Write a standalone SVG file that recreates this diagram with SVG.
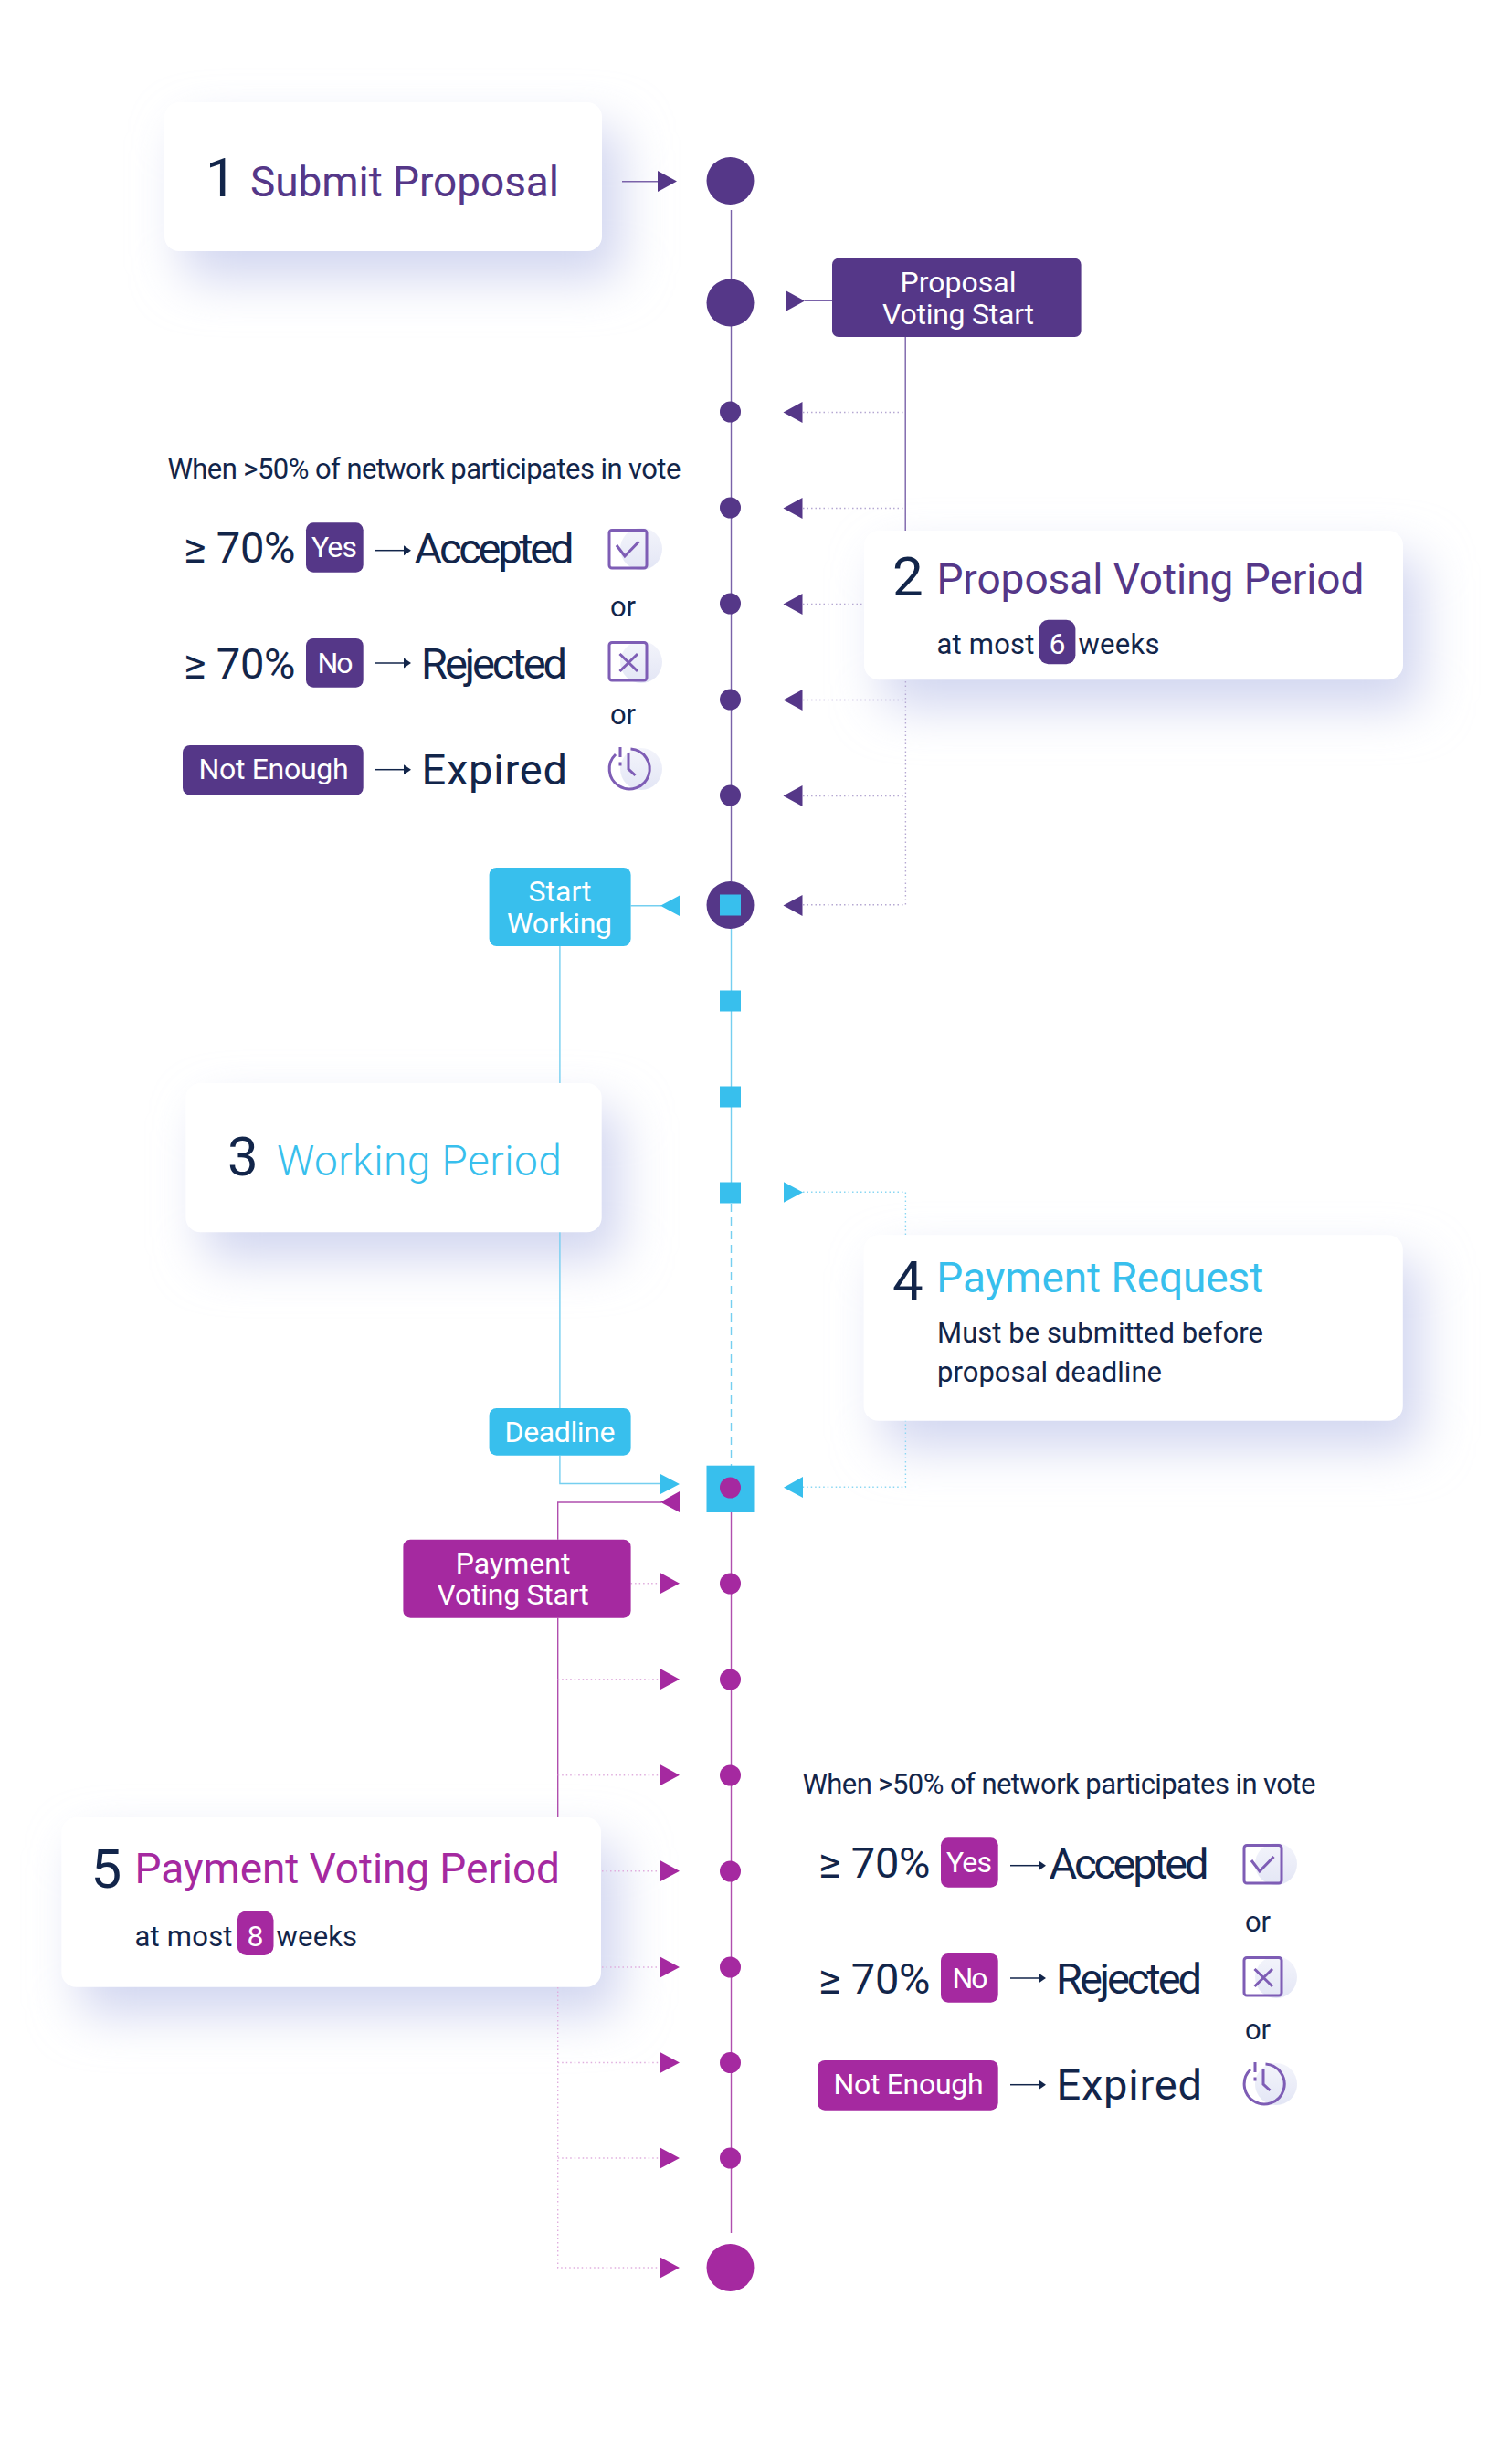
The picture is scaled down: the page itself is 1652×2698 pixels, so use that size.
<svg xmlns="http://www.w3.org/2000/svg" width="1652" height="2698" viewBox="0 0 1652 2698">
<style>
text{font-family:Roboto,"Liberation Sans",sans-serif;fill:#12254a}
.num{font-size:60px;font-weight:400}
.ttl{font-size:46px;font-weight:400}
.body{font-size:31px}
.res{font-size:47px}
.w{fill:#fff;font-size:32px}
.c{text-anchor:middle}
.pu{fill:#553788}.bl{fill:#38bfed}.ma{fill:#a529a0}
.tpu{fill:#553788}.tbl{fill:#38bfed}.tma{fill:#a529a0}
.card{fill:#fff}
.sh{fill:#d1d6f0;filter:url(#blur)}
.l{fill:none;stroke-width:1.4}
.d{fill:none;stroke-width:1.4;stroke-dasharray:1.5 3}
.lpu{stroke:#7a62a9}.lbl{stroke:#75cff0}.lma{stroke:#b04fae}
.dpu{stroke:#b5a8d2}.dbl{stroke:#8ad7f3}.dma{stroke:#e0aede}
.ib{fill:none;stroke:#7e5db5;stroke-width:3}
.ig{fill:url(#ico)}
</style>
<defs>
<filter id="blur" x="-30%" y="-60%" width="160%" height="220%"><feGaussianBlur stdDeviation="27"/></filter>
<linearGradient id="ico" x1="0" y1="0" x2="0" y2="1"><stop offset="0" stop-color="#f3f4fb"/><stop offset="1" stop-color="#e3e6f5"/></linearGradient>
<g id="iconCheck"><circle class="ig" cx="702" cy="601" r="23"/><rect class="ib" x="667" y="580.500" width="41" height="41.500" rx="3"/><path class="ib" d="M675 597L684 609L699.500 593"/></g>
<g id="iconX"><circle class="ig" cx="702" cy="725" r="23"/><rect class="ib" x="667" y="703.500" width="41" height="41.500" rx="3"/><path class="ib" d="M678.500 716L698 735M698 716L678.500 735"/></g>
<g id="iconClock"><circle class="ig" cx="702" cy="842" r="23"/><path class="ib" d="M690.500 820A22 22 0 1 1 674 826"/><path class="ib" d="M679 818V829M679 834.500V838.500M688 825V842L695.500 849" stroke-width="2.500"/></g>
<path id="ah" fill="#12254a" d="M442 -5.500V5.500L450 0Z"/>
</defs>
<rect width="1652" height="2698" fill="#fff"/>

<g id="shadows">
<rect class="sh" x="200" y="140" width="480" height="165" rx="16"/>
<rect class="sh" x="966" y="609" width="590" height="165" rx="16"/>
<rect class="sh" x="223" y="1214" width="456" height="165" rx="16"/>
<rect class="sh" x="966" y="1380" width="590" height="205" rx="16"/>
<rect class="sh" x="87" y="2018" width="591" height="188" rx="16"/>
</g>

<g id="connectors">
<path class="l lpu" d="M800.500 230V965"/>
<path class="l lbl" d="M800.500 1017V1295"/>
<path class="l lbl" stroke-dasharray="9 6" d="M800.500 1318V1605"/>
<path class="l lma" d="M800.500 1656V2445"/>
<path class="l lpu" d="M681 198.700H722"/>
<path class="l lpu" d="M881 329.300H911M991.200 369V581"/>
<path class="d dpu" d="M879 451.500H991M879 556.500H991M879 661.500H946M879 766.500H991M879 871.500H991M879 990.700H991.400V744"/>
<path class="l lbl" d="M690.600 991.700H724M612.900 1036V1542M612.900 1593.700V1624.500H724"/>
<path class="d dbl" d="M879 1305.300H991.400V1352M991.400 1555V1628.300H879"/>
<path class="l lma" d="M724 1645H610.700V1685.700M610.700 1771.700V1990"/>
<path class="d dma" d="M690.600 1733.700H723M610.700 1838.700H723M610.700 1943.700H723M659 2048.700H723M659 2154H723M610.700 2176V2483H723M610.700 2258.500H723M610.700 2363H723"/>
</g>

<g id="arrows">
<path class="pu" d="M720 187L741 198.500L720 210Z"/>
<path class="pu" d="M860 318L881 329.500L860 341Z"/>
<path class="pu" d="M857.500 451.500L878.500 440V463ZM857.500 556.500L878.500 545V568ZM857.500 661.500L878.500 650V673ZM857.500 766.500L878.500 755V778ZM857.500 871.500L878.500 860V883ZM857.500 991.500L878.500 980V1003Z"/>
<path class="bl" d="M723 991.700L744 980.500V1003ZM723 1614L744 1625L723 1636ZM858 1628.700L879 1617V1640ZM858 1294.300L879 1305.500L858 1316.700Z"/>
<path class="ma" d="M723 1644.700L744 1633V1656ZM723 1722.300L744 1733.700L723 1745ZM723 1827.300L744 1838.700L723 1850ZM723 1932.300L744 1943.700L723 1955ZM723 2037.300L744 2048.700L723 2060ZM723 2142.700L744 2154L723 2165.300ZM723 2247.200L744 2258.500L723 2269.800ZM723 2351.700L744 2363L723 2374.300ZM723 2471.700L744 2483L723 2494.300Z"/>
</g>

<g id="timeline-purple">
<circle class="pu" cx="799.500" cy="198" r="26"/>
<circle class="pu" cx="799.500" cy="331.500" r="26"/>
<circle class="pu" cx="799.500" cy="451" r="11.500"/>
<circle class="pu" cx="799.500" cy="556" r="11.500"/>
<circle class="pu" cx="799.500" cy="661" r="11.500"/>
<circle class="pu" cx="799.500" cy="766" r="11.500"/>
<circle class="pu" cx="799.500" cy="871" r="11.500"/>
<circle class="pu" cx="799.500" cy="991" r="26"/>
</g>
<g id="timeline-blue">
<rect class="bl" x="788" y="979.500" width="23" height="23"/>
<rect class="bl" x="788" y="1084.500" width="23" height="23"/>
<rect class="bl" x="788" y="1189.500" width="23" height="23"/>
<rect class="bl" x="788" y="1294.500" width="23" height="23"/>
<rect class="bl" x="773.500" y="1604.700" width="52" height="51.300"/>
</g>
<g id="timeline-magenta">
<circle class="ma" cx="799.500" cy="1629" r="11.500"/>
<circle class="ma" cx="799.500" cy="1734" r="11.500"/>
<circle class="ma" cx="799.500" cy="1839" r="11.500"/>
<circle class="ma" cx="799.500" cy="1944" r="11.500"/>
<circle class="ma" cx="799.500" cy="2049" r="11.500"/>
<circle class="ma" cx="799.500" cy="2154" r="11.500"/>
<circle class="ma" cx="799.500" cy="2258.500" r="11.500"/>
<circle class="ma" cx="799.500" cy="2363" r="11.500"/>
<circle class="ma" cx="799.500" cy="2483" r="26"/>
</g>

<g id="card-1">
<rect class="card" x="180" y="112" width="479" height="163" rx="16"/>
<text class="num" x="225" y="215">1</text>
<text class="ttl tpu" x="274" y="215" textLength="338">Submit Proposal</text>
</g>
<g id="card-2">
<rect class="card" x="946" y="581" width="590" height="163.300" rx="16"/>
<text class="num" x="977" y="652">2</text>
<text class="ttl tpu" x="1025.400" y="649.500" textLength="468">Proposal Voting Period</text>
<text class="body" x="1025.400" y="716" textLength="107">at most</text>
<rect class="pu" x="1137.600" y="678.700" width="39.800" height="48.600" rx="10"/>
<text class="w c" x="1157.500" y="715.500">6</text>
<text class="body" x="1180.500" y="716" textLength="89">weeks</text>
</g>
<g id="card-3">
<rect class="card" x="203.300" y="1186" width="455.400" height="163.300" rx="16"/>
<text class="num" x="249" y="1286.700">3</text>
<text class="ttl tbl" x="303" y="1286.700" textLength="311.800" style="font-weight:300">Working Period</text>
</g>
<g id="card-4">
<rect class="card" x="945.600" y="1352.300" width="590.200" height="203.400" rx="16"/>
<text class="num" x="977" y="1423.300">4</text>
<text class="ttl tbl" x="1025.300" y="1415" textLength="358">Payment Request</text>
<text class="body" x="1026" y="1470" textLength="357">Must be submitted before</text>
<text class="body" x="1026" y="1513" textLength="246">proposal deadline</text>
</g>
<g id="card-5">
<rect class="card" x="67.300" y="1990" width="590.700" height="185.800" rx="16"/>
<text class="num" x="99.500" y="2066.700">5</text>
<text class="ttl tma" x="147.500" y="2061.500" textLength="465.500">Payment Voting Period</text>
<text class="body" x="147.500" y="2131" textLength="107">at most</text>
<rect class="ma" x="259.700" y="2092.400" width="39.800" height="48.600" rx="10"/>
<text class="w c" x="279.600" y="2130.500">8</text>
<text class="body" x="302.600" y="2131" textLength="88.500">weeks</text>
</g>

<g id="proposal-voting-start">
<rect class="pu" x="911" y="282.700" width="272.600" height="86.300" rx="7"/>
<text class="w c" x="1049" y="320">Proposal</text>
<text class="w c" x="1049" y="354.500" textLength="166">Voting Start</text>
</g>
<g id="start-working">
<rect class="bl" x="535.600" y="950" width="155" height="86" rx="8"/>
<text class="w c" x="613" y="987.300">Start</text>
<text class="w c" x="612.500" y="1021.700" textLength="115">Working</text>
</g>
<g id="deadline">
<rect class="bl" x="535.600" y="1542" width="155" height="51.700" rx="8"/>
<text class="w c" x="613" y="1578.500" textLength="121">Deadline</text>
</g>
<g id="payment-voting-start">
<rect class="ma" x="441.400" y="1685.700" width="249.200" height="86" rx="8"/>
<text class="w c" x="561.600" y="1722.800">Payment</text>
<text class="w c" x="561.600" y="1757" textLength="166">Voting Start</text>
</g>

<g id="vote-proposal">
<text class="body" x="183.400" y="523.500" textLength="562">When &gt;50% of network participates in vote</text>
<text class="res" x="201" y="616" textLength="122.500">≥ 70%</text>
<rect class="pu" x="335" y="572.300" width="62.700" height="54.400" rx="8"/>
<text class="w c" x="366" y="609.500" textLength="50">Yes</text>
<path d="M411 602.700H443" stroke="#12254a" stroke-width="1.500"/><use href="#ah" y="602.700"/>
<text class="res" x="453.500" y="616.500" textLength="175">Accepted</text>
<use href="#iconCheck"/>
<text class="body" x="668" y="675" textLength="28">or</text>
<text class="res" x="201" y="742.500" textLength="122.500">≥ 70%</text>
<rect class="pu" x="335" y="699" width="62.700" height="53.700" rx="8"/>
<text class="w c" x="367" y="736.500" textLength="39">No</text>
<path d="M411 726H443" stroke="#12254a" stroke-width="1.500"/><use href="#ah" y="726"/>
<text class="res" x="461" y="742.500" textLength="160">Rejected</text>
<use href="#iconX"/>
<text class="body" x="668" y="793" textLength="28">or</text>
<rect class="pu" x="200" y="816" width="197.700" height="54.700" rx="8"/>
<text class="w" x="217.500" y="853" textLength="164">Not Enough</text>
<path d="M411 842.700H443" stroke="#12254a" stroke-width="1.500"/><use href="#ah" y="842.700"/>
<text class="res" x="461.500" y="859" textLength="159.500">Expired</text>
<use href="#iconClock"/>
</g>

<g id="vote-payment" transform="translate(695 1440)">
<text class="body" x="183.400" y="523.500" textLength="562">When &gt;50% of network participates in vote</text>
<text class="res" x="201" y="616" textLength="122.500">≥ 70%</text>
<rect class="ma" x="335" y="572.300" width="62.700" height="54.400" rx="8"/>
<text class="w c" x="366" y="609.500" textLength="50">Yes</text>
<path d="M411 602.700H443" stroke="#12254a" stroke-width="1.500"/><use href="#ah" y="602.700"/>
<text class="res" x="453.500" y="616.500" textLength="175">Accepted</text>
<use href="#iconCheck"/>
<text class="body" x="668" y="675" textLength="28">or</text>
<text class="res" x="201" y="742.500" textLength="122.500">≥ 70%</text>
<rect class="ma" x="335" y="699" width="62.700" height="53.700" rx="8"/>
<text class="w c" x="367" y="736.500" textLength="39">No</text>
<path d="M411 726H443" stroke="#12254a" stroke-width="1.500"/><use href="#ah" y="726"/>
<text class="res" x="461" y="742.500" textLength="160">Rejected</text>
<use href="#iconX"/>
<text class="body" x="668" y="793" textLength="28">or</text>
<rect class="ma" x="200" y="816" width="197.700" height="54.700" rx="8"/>
<text class="w" x="217.500" y="853" textLength="164">Not Enough</text>
<path d="M411 842.700H443" stroke="#12254a" stroke-width="1.500"/><use href="#ah" y="842.700"/>
<text class="res" x="461.500" y="859" textLength="159.500">Expired</text>
<use href="#iconClock"/>
</g>
</svg>
